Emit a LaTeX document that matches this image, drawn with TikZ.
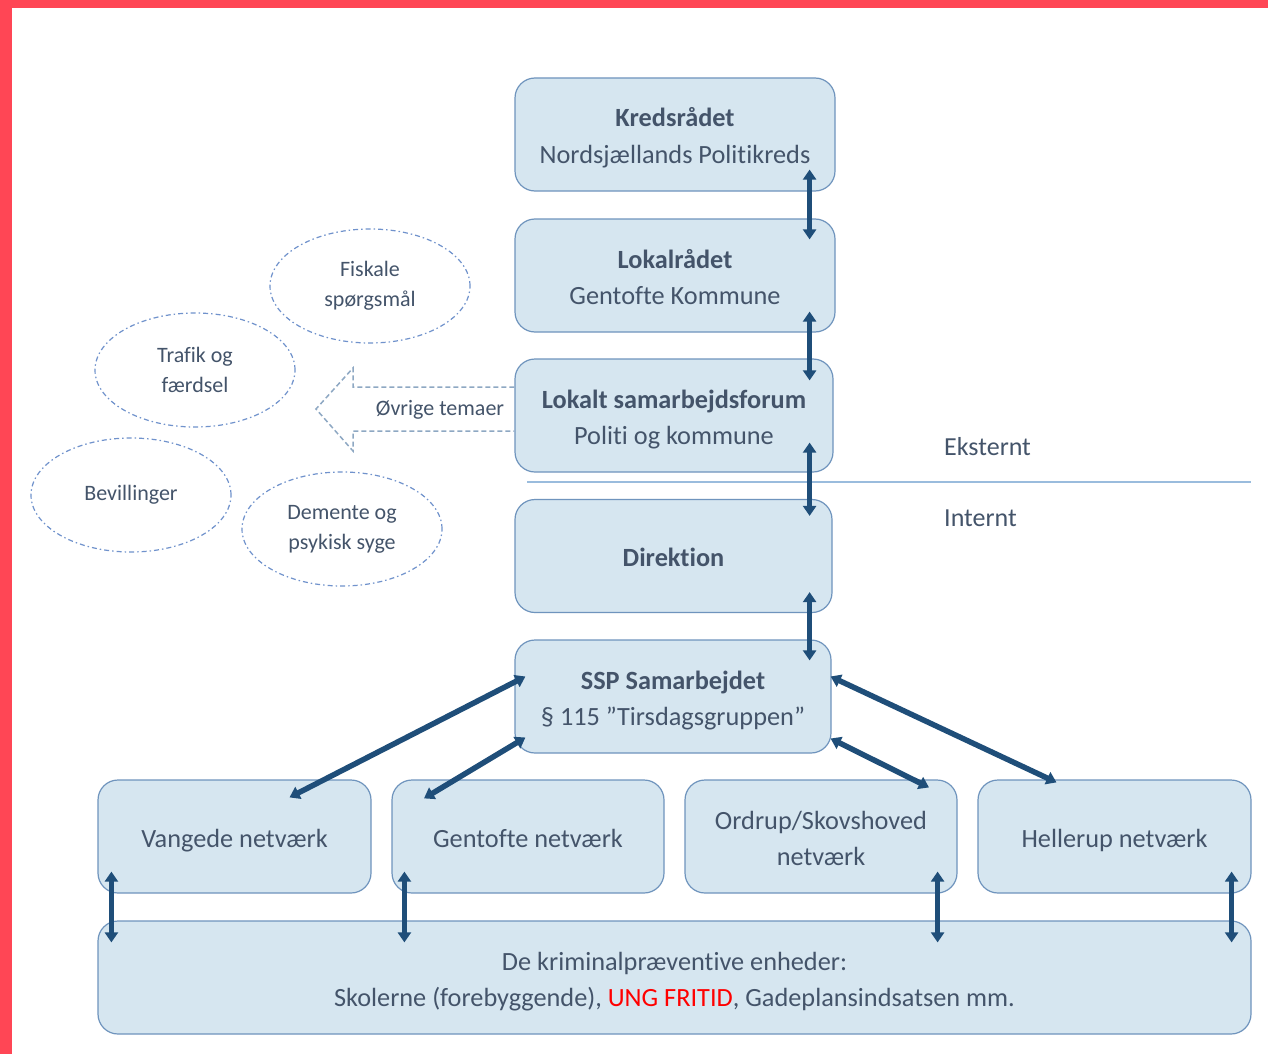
\documentclass[tikz,border=0pt]{standalone}
\usepackage{fontspec}
\setmainfont{Carlito}[Ligatures=NoCommon]
\usetikzlibrary{arrows.meta,shapes.geometric,calc}
\definecolor{boxfill}{HTML}{D6E6F0}
\definecolor{boxline}{HTML}{6F94BD}
\definecolor{txt}{HTML}{44546A}
\definecolor{arr}{HTML}{1F4E79}
\definecolor{redb}{HTML}{FF4655}
\definecolor{ell}{HTML}{7092CC}
\definecolor{dasharr}{HTML}{8EA8C3}
\definecolor{sepline}{HTML}{9ABCDD}
\definecolor{ungred}{HTML}{FF0000}
\newcommand\mytop{\rule{0pt}{29pt}}
\newcommand\mybot{\rule[-8pt]{0pt}{8pt}}
\begin{document}
\begin{tikzpicture}[x=1pt,y=-1pt,
  orgbox/.style={draw=boxline, fill=boxfill, line width=1.2pt, rounded corners=20pt, minimum height=113pt, align=center, text=txt, font=\fontsize{26.3}{36}\selectfont, inner sep=0pt},
  bubble/.style={ellipse, draw=ell, line width=1.2pt, dash pattern=on 5pt off 3pt on 1.5pt off 3pt, minimum width=200pt, minimum height=114pt, align=center, text=txt, font=\fontsize{22}{30}\selectfont, inner sep=0pt},
  biarrow/.style={draw=arr, line width=5.5pt, {Triangle[width=13pt,length=10pt]}-{Triangle[width=13pt,length=10pt]}},
  lbl/.style={text=txt, font=\fontsize{26}{30}\selectfont, anchor=west, inner sep=0pt}
]
\useasboundingbox (0,0) rectangle (1268,1054);
\fill[white] (0,0) rectangle (1268,1054);
\fill[redb] (0,0) rectangle (12,1054);
\fill[redb] (0,0) rectangle (1268,8);

% boxes
\node[orgbox, minimum width=320pt] (kreds) at (675,134.5) {\mytop{\bfseries Kredsrådet}\\Nordsjællands Politikreds\mybot};
\node[orgbox, minimum width=320pt] (lokal) at (675,275.5) {\mytop{\bfseries Lokalrådet}\\Gentofte Kommune\mybot};
\node[orgbox, minimum width=318pt] (lokalt) at (674,415.5) {\mytop{\bfseries Lokalt samarbejdsforum}\\Politi og kommune\mybot};
\node[orgbox, minimum width=317pt] (direk) at (673.5,556) {\mytop{\bfseries Direktion}\mybot};
\node[orgbox, minimum width=316pt] (ssp) at (673,696.5) {\mytop{\bfseries SSP Samarbejdet}\\§ 115 ”Tirsdagsgruppen”\mybot};
\node[orgbox, minimum width=273pt] (vangede) at (234.5,836.5) {\mytop Vangede netværk\mybot};
\node[orgbox, minimum width=272pt] (gentofte) at (528,836.5) {\mytop Gentofte netværk\mybot};
\node[orgbox, minimum width=272pt] (ordrup) at (821,836.5) {\mytop Ordrup/Skovshoved\\netværk\mybot};
\node[orgbox, minimum width=273pt] (hellerup) at (1114.5,836.5) {\mytop Hellerup netværk\mybot};
\node[orgbox, minimum width=1153pt] (bottom) at (674.5,977.5) {\mytop De kriminalpræventive enheder:\\Skolerne (forebyggende), {\color{ungred}UNG FRITID}, Gadeplansindsatsen mm.\mybot};

% separator
\coordinate (sepA) at (527,482);
\coordinate (sepB) at (1251,482);
\draw[sepline, line width=1.5pt] (sepA) -- (sepB);
\node[lbl] (ekst) at (944,447) {Eksternt};
\node[lbl] (intern) at (944,518) {Internt};

% vertical arrows
\draw[biarrow] ($(kreds.south east)+(-26,-22)$) -- ($(lokal.north east)+(-26,21)$);
\draw[biarrow] ($(lokal.south east)+(-26,-21)$) -- ($(lokalt.north east)+(-24,22)$);
\draw[biarrow] ($(lokalt.south east)+(-24,-30)$) -- ($(direk.north east)+(-23,17)$);
\draw[biarrow] ($(direk.south east)+(-23,-21)$) -- ($(ssp.north east)+(-22,21)$);

% diagonal arrows
\draw[biarrow] ($(ssp.west)+(11,-20)$) -- ($(vangede.north)+(55,18)$);
\draw[biarrow] ($(ssp.west)+(11,41)$) -- ($(gentofte.north)+(-104,19)$);
\draw[biarrow] ($(ssp.east)+(-1,42)$) -- ($(ordrup.north)+(108,8)$);
\draw[biarrow] ($(ssp.east)+(-1,-20)$) -- ($(hellerup.north)+(-58,3)$);

% bottom arrows
\draw[biarrow] ($(vangede.south west)+(14,-22)$) -- ($(bottom.north west)+(14,22)$);
\draw[biarrow] ($(gentofte.south west)+(13,-22)$) -- ($(bottom.north west)+(307,22)$);
\draw[biarrow] ($(ordrup.south east)+(-20,-22)$) -- ($(bottom.north east)+(-314,22)$);
\draw[biarrow] ($(hellerup.south east)+(-20,-22)$) -- ($(bottom.north east)+(-20,22)$);

% bubbles
\node[bubble] (fisk) at (370,286) {Fiskale\\spørgsmål};
\node[bubble] (trafik) at (195,370) {Trafik og\\færdsel};
\node[bubble] (bev) at (131,495) {Bevillinger};
\node[bubble] (dem) at (342,529) {Demente og\\psykisk syge};

% dashed arrow
\draw[dasharr, line width=1.5pt, dash pattern=on 5pt off 3pt, line join=miter]
  ($(lokalt.west)+(0,-28.5)$) -- (353,387) -- (353,368) -- (316,409) -- (353,451) -- (353,431) -- ($(lokalt.west)+(0,15.5)$);
\node[text=txt, font=\fontsize{22}{26}\selectfont, inner sep=0pt] (ovrige) at (440,410) {Øvrige temaer};
\end{tikzpicture}
\end{document}
